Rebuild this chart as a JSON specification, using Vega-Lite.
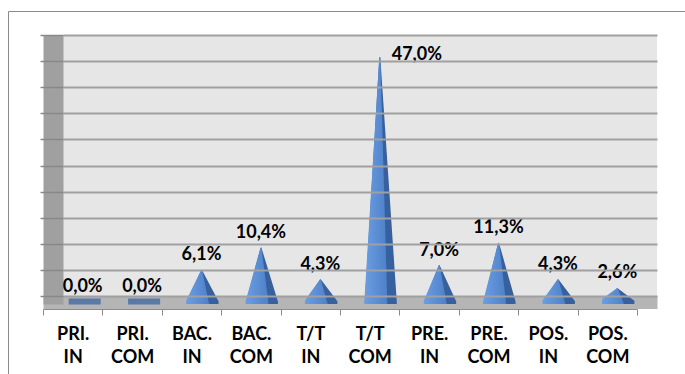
{
  "$schema": "https://vega.github.io/schema/vega-lite/v6.json",
  "width": 594,
  "height": 269,
  "autosize": {"type": "none"},
  "padding": {"left": 63, "top": 35, "right": 28, "bottom": 70},
  "background": "white",
  "data": {
    "values": [
      {"nivel": "PRI. IN", "pct": 0.0},
      {"nivel": "PRI. COM", "pct": 0.0},
      {"nivel": "BAC. IN", "pct": 0.061},
      {"nivel": "BAC. COM", "pct": 0.104},
      {"nivel": "T/T IN", "pct": 0.043},
      {"nivel": "T/T COM", "pct": 0.470},
      {"nivel": "PRE. IN", "pct": 0.070},
      {"nivel": "PRE. COM", "pct": 0.113},
      {"nivel": "POS. IN", "pct": 0.043},
      {"nivel": "POS. COM", "pct": 0.026}
    ]
  },
  "resolve": {
    "scale": {"x": "independent", "y": "independent", "xOffset": "independent", "size": "independent"},
    "axis": {"x": "independent", "y": "independent"}
  },
  "layer": [
    {
      "mark": {"type": "point", "opacity": 0},
      "encoding": {
        "x": {"field": "nivel", "type": "nominal", "sort": null,
          "scale": {"type": "band", "range": [-55, 640], "paddingInner": 0, "paddingOuter": 0},
          "axis": {"orient": "top", "offset": 24, "domain": true, "domainColor": "#8a8a8a", "domainWidth": 1, "ticks": false, "labels": false, "grid": false, "title": null}},
        "y": {"field": "pct", "type": "quantitative",
          "scale": {"range": [350, -24]},
          "axis": {"orient": "left", "offset": 55, "domain": true, "domainColor": "#8a8a8a", "domainWidth": 1, "ticks": false, "labels": false, "grid": false, "title": null}}
      }
    },
    {
      "mark": {"type": "point", "opacity": 0},
      "encoding": {
        "x": {"field": "nivel", "type": "nominal", "sort": null,
          "scale": {"type": "band", "paddingInner": 0, "paddingOuter": 0},
          "axis": {"orient": "bottom", "offset": -2, "domain": true, "domainColor": "#b5b5b5", "domainWidth": 13, "ticks": false, "labels": false, "grid": false, "title": null}},
        "y": {"field": "pct", "type": "quantitative", "axis": null}
      }
    },
    {
      "mark": {"type": "point", "opacity": 0},
      "encoding": {
        "x": {"field": "nivel", "type": "nominal", "sort": null,
          "scale": {"type": "band", "paddingInner": 0, "paddingOuter": 0},
          "axis": {"orient": "bottom", "offset": -2, "position": -20, "domain": true, "domainColor": "#b5b5b5", "domainWidth": 13, "ticks": false, "labels": false, "grid": false, "title": null}},
        "y": {"field": "pct", "type": "quantitative",
          "axis": {"orient": "left", "offset": 10, "domain": true, "domainColor": "#a0a0a0", "domainWidth": 20, "ticks": false, "labels": false, "grid": false, "title": null}}
      }
    },
    {
      "mark": {"type": "point", "opacity": 0},
      "encoding": {
        "x": {"field": "nivel", "type": "nominal", "sort": null,
          "scale": {"type": "band", "paddingInner": 0, "paddingOuter": 0},
          "axis": {"orient": "bottom", "offset": 5, "position": -20, "tickBand": "extent",
            "domain": true, "domainColor": "#8c8c8c", "domainWidth": 1,
            "ticks": true, "tickColor": "#8c8c8c", "tickSize": 6, "tickWidth": 1,
            "labels": true, "labelExpr": "split(datum.label, ' ')", "labelFont": "Lato", "labelFontSize": 18, "labelFontWeight": "bold", "labelColor": "#000000", "labelLineHeight": 23, "labelPadding": 10, "labelBaseline": "top", "labelAngle": 0,
            "grid": false, "title": null}},
        "y": {"field": "pct", "type": "quantitative",
          "scale": {"domain": [-0.0153, 0.5], "nice": false, "zero": false},
          "axis": {"orient": "left", "offset": 0, "values": [0, 0.05, 0.1, 0.15, 0.2, 0.25, 0.3, 0.35, 0.4, 0.45, 0.5],
            "grid": true, "gridColor": "#a0a0a0", "gridWidth": 2,
            "ticks": true, "tickSize": 23, "tickColor": "#888888", "tickWidth": 1.5, "zindex": 1,
            "labels": false, "domain": false, "title": null}}
      }
    },
    {
      "transform": [
        {"joinaggregate": [{"op": "min", "field": "pct", "as": "piso"}]},
        {"filter": "datum.pct > 0"},
        {"fold": ["piso", "pct"], "as": ["punto", "v"]}
      ],
      "mark": {"type": "trail", "clip": true, "color": "#36609e"},
      "encoding": {
        "x": {"field": "nivel", "type": "nominal", "sort": null,
          "scale": {"type": "band", "paddingInner": 0, "paddingOuter": 0,
            "domain": ["PRI. IN", "PRI. COM", "BAC. IN", "BAC. COM", "T/T IN", "T/T COM", "PRE. IN", "PRE. COM", "POS. IN", "POS. COM"]}, "axis": null},
        "xOffset": {"field": "punto", "type": "nominal",
          "scale": {"type": "point", "domain": ["piso", "pct"], "range": [20.8, 19.8], "padding": 0}},
        "y": {"field": "v", "type": "quantitative",
          "scale": {"domain": [-0.00385, 0.5135], "nice": false, "zero": false}, "axis": null},
        "size": {"field": "punto", "type": "nominal",
          "scale": {"type": "point", "domain": ["piso", "pct"], "range": [32, 0], "padding": 0}, "legend": null},
        "order": {"field": "v", "type": "quantitative"},
        "detail": {"field": "nivel"}
      }
    },
    {
      "transform": [
        {"joinaggregate": [{"op": "min", "field": "pct", "as": "piso"}]},
        {"filter": "datum.pct > 0"},
        {"fold": ["piso", "pct"], "as": ["punto", "v"]}
      ],
      "mark": {"type": "trail", "clip": true,
        "color": {"gradient": "linear", "x1": 0, "x2": 1, "y1": 0, "y2": 0,
          "stops": [{"offset": 0, "color": "#6c9ee2"}, {"offset": 1, "color": "#4d80c8"}]}},
      "encoding": {
        "x": {"field": "nivel", "type": "nominal", "sort": null,
          "scale": {"type": "band", "paddingInner": 0, "paddingOuter": 0,
            "domain": ["PRI. IN", "PRI. COM", "BAC. IN", "BAC. COM", "T/T IN", "T/T COM", "PRE. IN", "PRE. COM", "POS. IN", "POS. COM"]}, "axis": null},
        "xOffset": {"field": "punto", "type": "nominal",
          "scale": {"type": "point", "domain": ["piso", "pct"], "range": [15.8, 19.8], "padding": 0}},
        "y": {"field": "v", "type": "quantitative",
          "scale": {"domain": [-0.00385, 0.5135], "nice": false, "zero": false}, "axis": null},
        "size": {"field": "punto", "type": "nominal",
          "scale": {"type": "point", "domain": ["piso", "pct"], "range": [23, 0], "padding": 0}, "legend": null},
        "order": {"field": "v", "type": "quantitative"},
        "detail": {"field": "nivel"}
      }
    },
    {
      "transform": [{"filter": "datum.pct == 0"}],
      "mark": {"type": "tick", "orient": "horizontal", "color": "#35609e", "thickness": 6, "size": 32, "xOffset": -8, "yOffset": -0.5},
      "encoding": {
        "x": {"field": "nivel", "type": "nominal", "sort": null,
          "scale": {"type": "band", "paddingInner": 0, "paddingOuter": 0,
            "domain": ["PRI. IN", "PRI. COM", "BAC. IN", "BAC. COM", "T/T IN", "T/T COM", "PRE. IN", "PRE. COM", "POS. IN", "POS. COM"]}, "axis": null},
        "y": {"field": "pct", "type": "quantitative",
          "scale": {"domain": [-0.00385, 0.5135], "nice": false, "zero": false}, "axis": null}
      }
    },
    {
      "transform": [{"filter": "datum.pct < 0.4"}],
      "mark": {"type": "text", "font": "Lato", "fontSize": 18, "fontWeight": "bold", "color": "#000000", "dx": -10, "dy": -15, "baseline": "middle"},
      "encoding": {
        "x": {"field": "nivel", "type": "nominal", "sort": null,
          "scale": {"type": "band", "paddingInner": 0, "paddingOuter": 0,
            "domain": ["PRI. IN", "PRI. COM", "BAC. IN", "BAC. COM", "T/T IN", "T/T COM", "PRE. IN", "PRE. COM", "POS. IN", "POS. COM"]}, "axis": null},
        "y": {"field": "pct", "type": "quantitative",
          "scale": {"domain": [-0.00385, 0.5135], "nice": false, "zero": false}, "axis": null},
        "text": {"field": "pct", "type": "quantitative", "format": ".1%"}
      }
    },
    {
      "transform": [{"filter": "datum.pct >= 0.4"}],
      "mark": {"type": "text", "font": "Lato", "fontSize": 18, "fontWeight": "bold", "color": "#000000", "align": "left", "dx": 2, "dy": -3, "baseline": "middle"},
      "encoding": {
        "x": {"field": "nivel", "type": "nominal", "sort": null,
          "scale": {"type": "band", "paddingInner": 0, "paddingOuter": 0,
            "domain": ["PRI. IN", "PRI. COM", "BAC. IN", "BAC. COM", "T/T IN", "T/T COM", "PRE. IN", "PRE. COM", "POS. IN", "POS. COM"]}, "axis": null},
        "y": {"field": "pct", "type": "quantitative",
          "scale": {"domain": [-0.00385, 0.5135], "nice": false, "zero": false}, "axis": null},
        "text": {"field": "pct", "type": "quantitative", "format": ".1%"}
      }
    }
  ],
  "config": {
    "view": {"fill": "#e6e6e6", "stroke": null},
    "font": "Lato",
    "locale": {"number": {"decimal": ",", "thousands": ".", "grouping": [3], "currency": ["", ""]}}
  }
}
